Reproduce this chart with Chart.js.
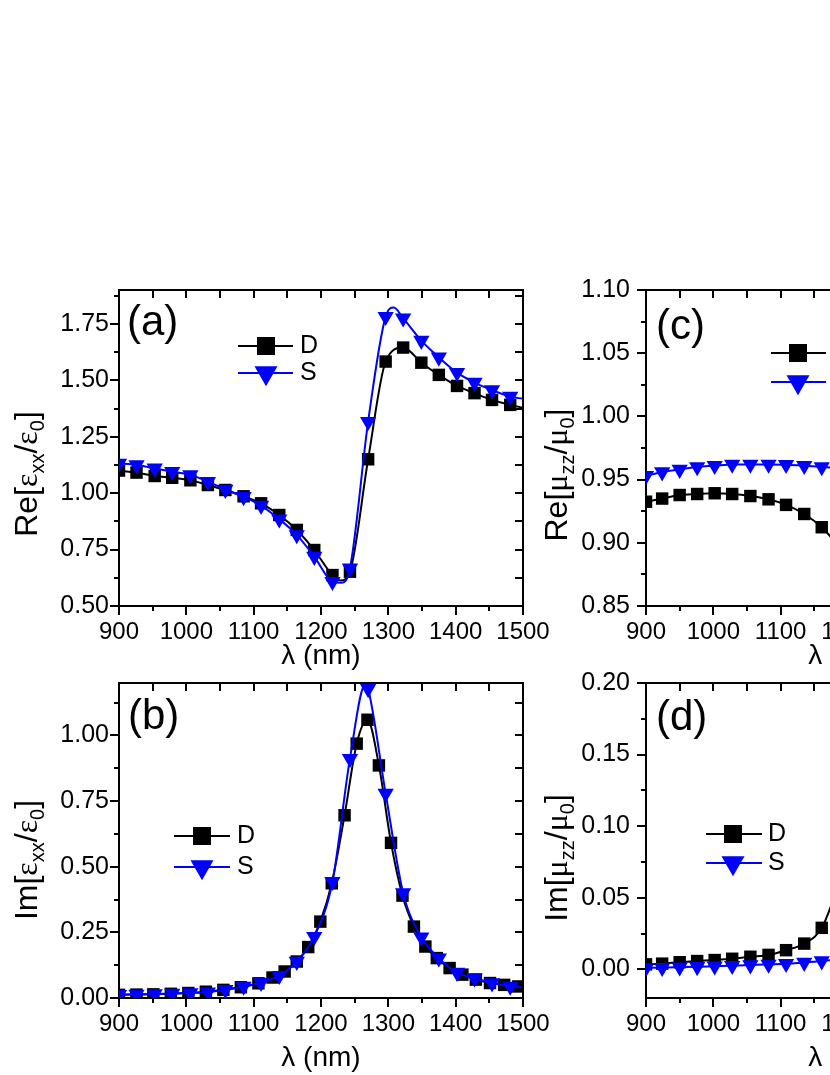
<!DOCTYPE html>
<html>
<head>
<meta charset="utf-8">
<script src="https://cdn.jsdelivr.net/npm/chart.js@4.4.1/dist/chart.umd.min.js"></script>
<style>
  html, body { margin: 0; padding: 0; background: #fff; }
  #wrap { position: relative; width: 830px; height: 1075px; overflow: hidden; background: #fff; }
  #wrap canvas { position: absolute; }
</style>
</head>
<body>
<div id="wrap">
  <canvas id="cA" width="555" height="420" style="left:0px;top:260px"></canvas>
  <canvas id="cB" width="555" height="422" style="left:0px;top:653px"></canvas>
  <canvas id="cC" width="555" height="420" style="left:527px;top:260px"></canvas>
  <canvas id="cD" width="555" height="422" style="left:527px;top:653px"></canvas>
</div>
<script>
// ---------------- data ----------------
const xTicks = [900, 1000, 1100, 1200, 1300, 1400, 1500];
const xMinorTicks = [950, 1050, 1150, 1250, 1350, 1450];

const yTicksA = [0.50, 0.75, 1.00, 1.25, 1.50, 1.75];
const yMinorA = [0.625, 0.875, 1.125, 1.375, 1.625, 1.875];
const yTicksB = [0.00, 0.25, 0.50, 0.75, 1.00];
const yMinorB = [0.125, 0.375, 0.625, 0.875, 1.125];
const yTicksC = [0.85, 0.90, 0.95, 1.00, 1.05, 1.10];
const yMinorC = [0.875, 0.925, 0.975, 1.025, 1.075];
const yTicksD = [0.00, 0.05, 0.10, 0.15, 0.20];
const yMinorD = [0.025, 0.075, 0.125, 0.175];

// wavelength grid of the markers (nm)
const lamGrid = [900, 926, 953, 979, 1006, 1032, 1058, 1085, 1111, 1138, 1164, 1190, 1217, 1243, 1270, 1296, 1322, 1349, 1375, 1402, 1428, 1454, 1481];

// (a) Re[eps_xx/eps_0]
const reEpsD = [1.100, 1.091, 1.076, 1.068, 1.057, 1.036, 1.014, 0.986, 0.955, 0.903, 0.837, 0.748, 0.637, 0.652, 1.150, 1.583, 1.645, 1.578, 1.524, 1.475, 1.443, 1.413, 1.391];
const reEpsS = [1.132, 1.125, 1.110, 1.095, 1.081, 1.051, 1.016, 0.984, 0.945, 0.885, 0.815, 0.719, 0.608, 0.667, 1.317, 1.782, 1.775, 1.676, 1.602, 1.534, 1.490, 1.457, 1.428];
// extra curve points read between markers
const reEpsDCurveLam = [1229, 1500];
const reEpsDCurveVal = [0.613, 1.378];
const reEpsSCurveLam = [1230, 1308, 1500];
const reEpsSCurveVal = [0.603, 1.822, 1.418];

// (b) Im[eps_xx/eps_0]
const imEpsDLam = [900, 926, 951, 977, 1003, 1029, 1055, 1081, 1107, 1128, 1146, 1164, 1181, 1199, 1216, 1235, 1253, 1269, 1286, 1304, 1321, 1338, 1355, 1372, 1391, 1410, 1430, 1451, 1472, 1493];
const imEpsD = [0.012, 0.013, 0.014, 0.016, 0.019, 0.024, 0.031, 0.041, 0.056, 0.078, 0.101, 0.139, 0.194, 0.291, 0.437, 0.696, 0.969, 1.060, 0.886, 0.591, 0.390, 0.272, 0.196, 0.152, 0.114, 0.089, 0.070, 0.057, 0.050, 0.044];
const imEpsS = [0.013, 0.014, 0.015, 0.017, 0.019, 0.022, 0.032, 0.044, 0.059, 0.085, 0.139, 0.234, 0.443, 0.912, 1.178, 0.779, 0.400, 0.232, 0.152, 0.097, 0.076, 0.057, 0.044];
const imEpsDCurveLam = [1500];
const imEpsDCurveVal = [0.042];
const imEpsSCurveLam = [1266, 1500];
const imEpsSCurveVal = [1.195, 0.041];

// (c) Re[mu_zz/mu_0]   (d) Im[mu_zz/mu_0]
const lamMu = [900, 924, 950, 976, 1002, 1028, 1055, 1082, 1108, 1135, 1161, 1187];
const reMuD = [0.9325, 0.9350, 0.9378, 0.9386, 0.9392, 0.9386, 0.9370, 0.9344, 0.9300, 0.9228, 0.9123, 0.8970];
const reMuS = [0.9530, 0.9560, 0.9580, 0.9600, 0.9610, 0.9620, 0.9620, 0.9620, 0.9618, 0.9610, 0.9600, 0.9590];
const imMuD = [0.0035, 0.0040, 0.0050, 0.0058, 0.0065, 0.0074, 0.0088, 0.0101, 0.0134, 0.0180, 0.0290, 0.0600];
const imMuS = [0.0010, 0.0012, 0.0015, 0.0018, 0.0022, 0.0026, 0.0030, 0.0035, 0.0040, 0.0048, 0.0058, 0.0072];

const seriesNames = ['D', 'S'];
const xTitle = 'λ (nm)';

// ---------------- helpers ----------------
const FONT = '"Liberation Sans", Arial, Helvetica, sans-serif';
const GREEK = '"Liberation Serif", "Times New Roman", serif';
const BLUE = '#0000ff';
const pts = (xs, ys) => xs.map((x, i) => ({x, y: ys[i]}));
const curve = (xs, ys, ex, ey) => pts(xs, ys).concat(pts(ex, ey)).sort((a, b) => a.x - b.x);

const lineDs = (data, color, order) => ({
  data, borderColor: color, backgroundColor: color, borderWidth: 2,
  pointRadius: 0, pointHoverRadius: 0, cubicInterpolationMode: 'monotone',
  fill: false, order
});
const markDs = (data, color, style, r, order) => ({
  data, showLine: false, pointStyle: style, pointRadius: r, pointHoverRadius: r,
  pointRotation: style === 'triangle' ? 180 : 0,
  pointBackgroundColor: color, pointBorderColor: color, pointBorderWidth: 0,
  backgroundColor: color, borderColor: color, clip: 0, order
});

const framePlugin = {
  id: 'frame',
  afterDraw(chart, args, o) {
    const ctx = chart.ctx, a = chart.chartArea, sx = chart.scales.x, sy = chart.scales.y;
    ctx.save();
    ctx.strokeStyle = '#000';
    ctx.lineWidth = 2;
    ctx.beginPath();
    ctx.moveTo(a.left - 1, a.top); ctx.lineTo(a.right + 1, a.top);
    ctx.moveTo(a.right, a.top); ctx.lineTo(a.right, a.bottom + 1);
    xTicks.concat(xMinorTicks).forEach(v => {
      const p = Math.round(sx.getPixelForValue(v));
      ctx.moveTo(p, a.top); ctx.lineTo(p, a.top + 8);
    });
    xMinorTicks.forEach(v => {
      const p = Math.round(sx.getPixelForValue(v));
      ctx.moveTo(p, a.bottom); ctx.lineTo(p, a.bottom + 5);
    });
    o.yMajor.concat(o.yMinor).forEach(v => {
      const p = Math.round(sy.getPixelForValue(v));
      ctx.moveTo(a.right, p); ctx.lineTo(a.right - 8, p);
    });
    o.yMinor.forEach(v => {
      const p = Math.round(sy.getPixelForValue(v));
      ctx.moveTo(a.left, p); ctx.lineTo(a.left - 5, p);
    });
    ctx.stroke();

    // panel label
    ctx.fillStyle = '#000';
    ctx.font = '42px ' + FONT;
    ctx.textBaseline = 'alphabetic';
    ctx.textAlign = 'left';
    ctx.fillText(o.label, o.labelX, o.labelY);

    // legend (line + marker + name)
    const L = o.legend;
    const ds = chart.data.datasets;
    ctx.lineWidth = 2;
    [[L.yD, ds[1].pointBackgroundColor, 'rect', seriesNames[0]],
     [L.yS, ds[3].pointBackgroundColor, 'tri', seriesNames[1]]].forEach(([yy, col, st, name]) => {
      ctx.strokeStyle = col; ctx.fillStyle = col;
      ctx.beginPath(); ctx.moveTo(L.x1, yy); ctx.lineTo(L.x2, yy); ctx.stroke();
      ctx.beginPath();
      if (st === 'rect') {
        ctx.rect(L.xm - 9, yy - 9, 18, 18);
      } else {
        ctx.moveTo(L.xm - 11.5, yy - 6.7);
        ctx.lineTo(L.xm + 11.5, yy - 6.7);
        ctx.lineTo(L.xm, yy + 13.3);
        ctx.closePath();
      }
      ctx.fill();
      ctx.fillStyle = '#000';
      ctx.font = '25px ' + FONT;
      ctx.fillText(name, L.xt, yy + 7);
    });

    // rotated y title with subscripts
    const parts = o.ytitle;
    const fontOf = k => k === 's' ? '20px ' + FONT : (k === 'g' ? '32px ' + GREEK : '32px ' + FONT);
    let w = 0;
    parts.forEach(([t, k]) => { ctx.font = fontOf(k); w += ctx.measureText(t).width; });
    ctx.translate(o.ytX, o.ytY);
    ctx.rotate(-Math.PI / 2);
    ctx.fillStyle = '#000';
    let x = -w / 2;
    parts.forEach(([t, k]) => {
      ctx.font = fontOf(k);
      ctx.fillText(t, x, k === 's' ? 7 : 0);
      x += ctx.measureText(t).width;
    });
    ctx.restore();
  }
};

function makeChart(p) {
  return new Chart(document.getElementById(p.id), {
    type: 'line',
    data: {
      datasets: [
        lineDs(p.dLine, '#000', 4),
        markDs(p.dMarks, '#000', 'rect', 8.8, 3),
        lineDs(p.sLine, BLUE, 2),
        markDs(p.sMarks, BLUE, 'triangle', 9.4, 1)
      ]
    },
    options: {
      responsive: false,
      devicePixelRatio: 1,
      animation: false,
      events: [],
      layout: { padding: { top: 30, right: 32, bottom: 0, left: 0 } },
      scales: {
        x: {
          type: 'linear', position: 'bottom', min: 900, max: 1500,
          afterBuildTicks: s => { s.ticks = xTicks.map(v => ({value: v})); },
          afterFit: s => { s.height = p.xAxisH; },
          ticks: { font: { family: FONT, size: 24 }, color: '#000', padding: 3, maxRotation: 0, minRotation: 0, autoSkip: false, callback: v => String(v) },
          grid: { display: true, drawOnChartArea: false, drawTicks: true, tickLength: 9, tickWidth: 2, tickColor: '#000', color: '#000', lineWidth: 2 },
          border: { display: true, color: '#000', width: 2 },
          title: { display: true, text: xTitle, color: '#000', font: { family: FONT, size: 28 }, padding: { top: 0, bottom: p.titlePadB } }
        },
        y: {
          type: 'linear', position: 'left', min: p.yMin, max: p.yMax,
          afterBuildTicks: s => { s.ticks = p.yTicks.map(v => ({value: v})); },
          afterFit: s => { s.width = 119; },
          ticks: { font: { family: FONT, size: 25 }, color: '#000', padding: p.yPad, autoSkip: false, callback: v => Number(v).toFixed(2) },
          grid: { display: true, drawOnChartArea: false, drawTicks: true, tickLength: 9, tickWidth: 2, tickColor: '#000', color: '#000', lineWidth: 2 },
          border: { display: true, color: '#000', width: 2 }
        }
      },
      plugins: {
        legend: { display: false },
        tooltip: { enabled: false },
        frame: {
          yMajor: p.yTicks, yMinor: p.yMinor, label: p.label, labelX: p.labelX, labelY: p.labelY,
          legend: p.legend, ytitle: p.ytitle, ytX: p.ytX, ytY: p.ytY
        }
      }
    },
    plugins: [framePlugin]
  });
}

makeChart({
  id: 'cA', yMin: 0.5, yMax: 1.9, yTicks: yTicksA, yMinor: yMinorA, yPad: 1, xAxisH: 74, titlePadB: 7,
  dLine: curve(lamGrid, reEpsD, reEpsDCurveLam, reEpsDCurveVal), dMarks: pts(lamGrid, reEpsD),
  sLine: curve(lamGrid, reEpsS, reEpsSCurveLam, reEpsSCurveVal), sMarks: pts(lamGrid, reEpsS),
  label: '(a)', labelX: 127, labelY: 75,
  legend: { x1: 238, x2: 293, xm: 266, yD: 86, yS: 113, xt: 300 },
  ytitle: [['Re[', 'n'], ['ε', 'g'], ['xx', 's'], ['/', 'n'], ['ε', 'g'], ['0', 's'], [']', 'n']],
  ytX: 37, ytY: 214
});
makeChart({
  id: 'cB', yMin: 0, yMax: 1.2, yTicks: yTicksB, yMinor: yMinorB, yPad: 1, xAxisH: 77, titlePadB: 0,
  dLine: curve(imEpsDLam, imEpsD, imEpsDCurveLam, imEpsDCurveVal), dMarks: pts(imEpsDLam, imEpsD),
  sLine: curve(lamGrid, imEpsS, imEpsSCurveLam, imEpsSCurveVal), sMarks: pts(lamGrid, imEpsS),
  label: '(b)', labelX: 128, labelY: 76,
  legend: { x1: 174, x2: 230, xm: 202, yD: 183, yS: 214, xt: 237 },
  ytitle: [['Im[', 'n'], ['ε', 'g'], ['xx', 's'], ['/', 'n'], ['ε', 'g'], ['0', 's'], [']', 'n']],
  ytX: 37, ytY: 207
});
makeChart({
  id: 'cC', yMin: 0.85, yMax: 1.10, yTicks: yTicksC, yMinor: yMinorC, yPad: 7, xAxisH: 74, titlePadB: 7,
  dLine: pts(lamMu, reMuD), dMarks: pts(lamMu, reMuD),
  sLine: pts(lamMu, reMuS), sMarks: pts(lamMu, reMuS),
  label: '(c)', labelX: 129, labelY: 79,
  legend: { x1: 244, x2: 299, xm: 271, yD: 93, yS: 122, xt: 306 },
  ytitle: [['Re[', 'n'], ['μ', 'g'], ['zz', 's'], ['/', 'n'], ['μ', 'g'], ['0', 's'], [']', 'n']],
  ytX: 40, ytY: 215
});
makeChart({
  id: 'cD', yMin: -0.02, yMax: 0.20, yTicks: yTicksD, yMinor: yMinorD, yPad: 7, xAxisH: 77, titlePadB: 0,
  dLine: pts(lamMu, imMuD), dMarks: pts(lamMu, imMuD),
  sLine: pts(lamMu, imMuS), sMarks: pts(lamMu, imMuS),
  label: '(d)', labelX: 129, labelY: 77,
  legend: { x1: 179, x2: 235, xm: 206, yD: 181, yS: 210, xt: 241 },
  ytitle: [['Im[', 'n'], ['μ', 'g'], ['zz', 's'], ['/', 'n'], ['μ', 'g'], ['0', 's'], [']', 'n']],
  ytX: 40, ytY: 205
});
</script>
</body>
</html>
